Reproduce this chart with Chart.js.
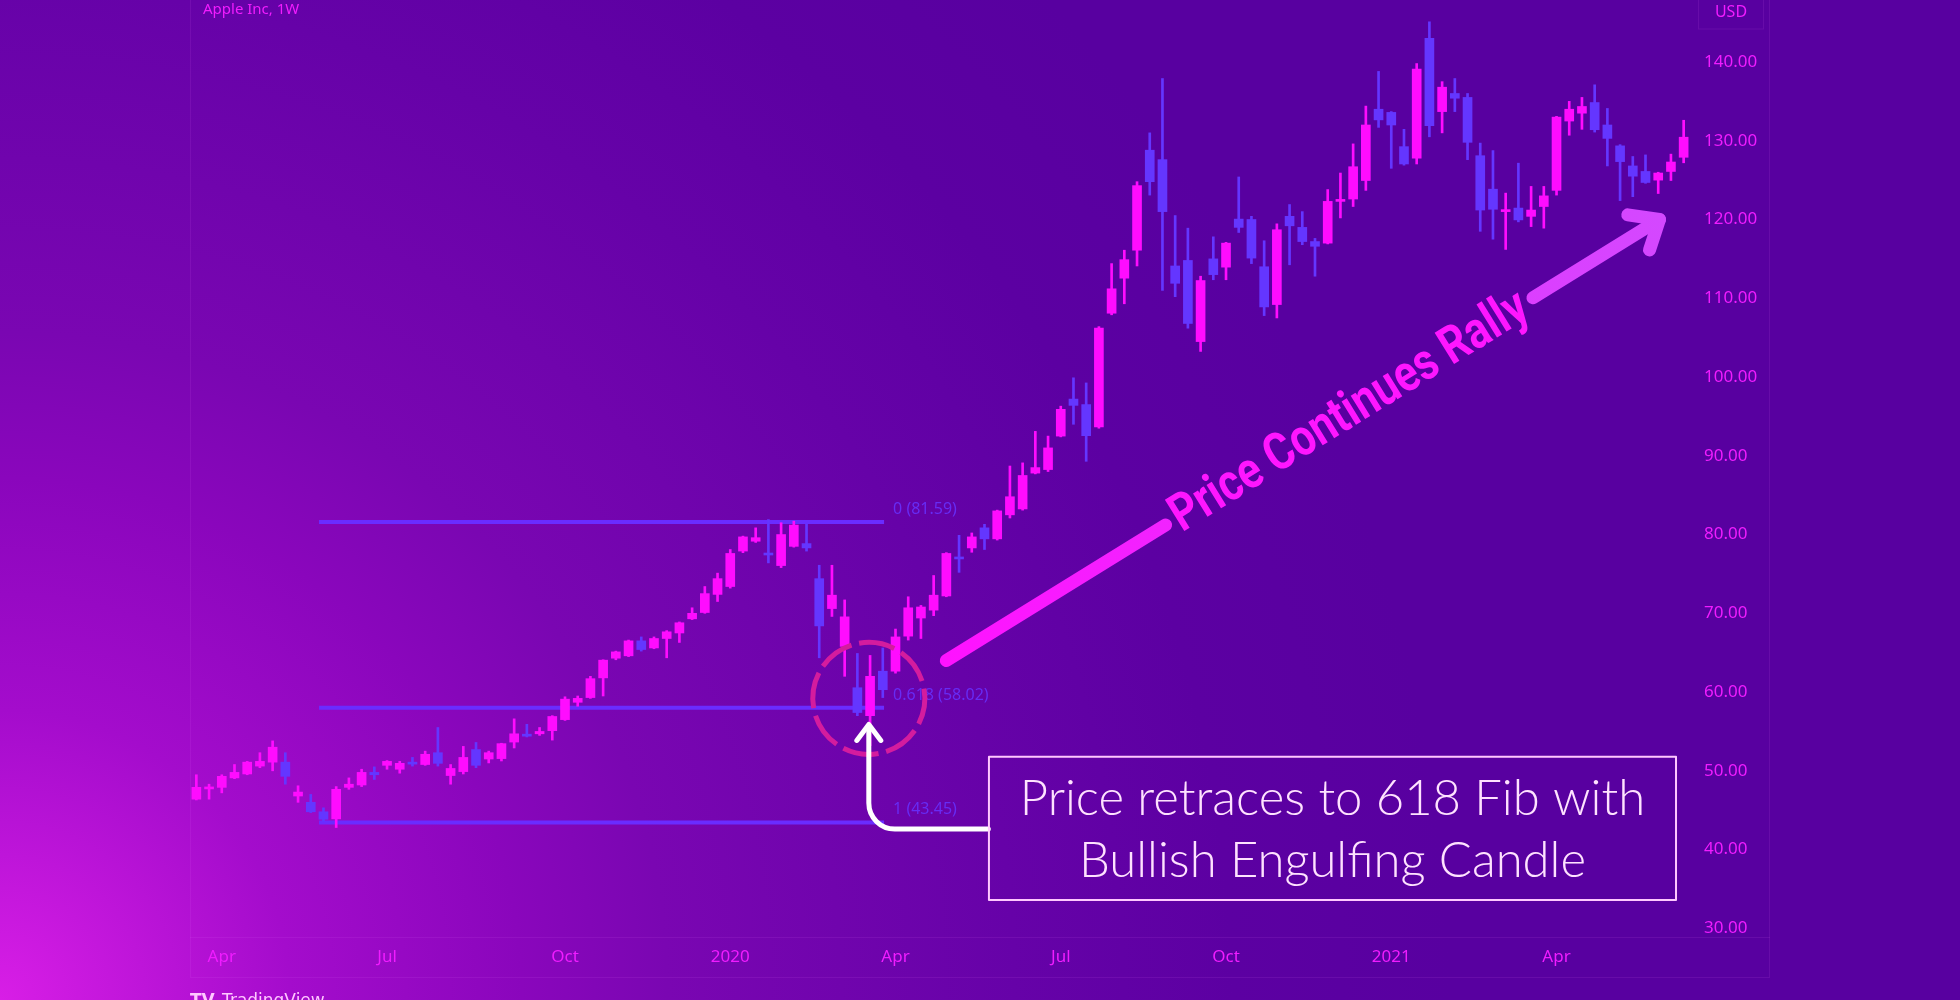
<!DOCTYPE html>
<html>
<head>
<meta charset="utf-8">
<script src="https://cdn.jsdelivr.net/npm/chart.js@4.4.1/dist/chart.umd.min.js"></script>
<style>
    html, body { margin: 0; padding: 0; background: #5800a0; overflow: hidden; }
    #wrap { width: 1960px; height: 1000px; }
</style>
</head>
<body>
<div id="wrap"><canvas id="aaplChart" width="1960" height="1000"></canvas></div>
<script>
// Apple Inc, weekly bars (split adjusted)
const weeks = [
    '2019-03-18','2019-03-25','2019-04-01','2019-04-08','2019-04-15','2019-04-22','2019-04-29',
    '2019-05-06','2019-05-13','2019-05-20','2019-05-27','2019-06-03','2019-06-10','2019-06-17','2019-06-24',
    '2019-07-01','2019-07-08','2019-07-15','2019-07-22','2019-07-29','2019-08-05','2019-08-12','2019-08-19','2019-08-26',
    '2019-09-02','2019-09-09','2019-09-16','2019-09-23','2019-09-30','2019-10-07','2019-10-14','2019-10-21','2019-10-28',
    '2019-11-04','2019-11-11','2019-11-18','2019-11-25','2019-12-02','2019-12-09','2019-12-16','2019-12-23','2019-12-30',
    '2020-01-06','2020-01-13','2020-01-20','2020-01-27','2020-02-03','2020-02-10','2020-02-17','2020-02-24',
    '2020-03-02','2020-03-09','2020-03-16','2020-03-23','2020-03-30','2020-04-06','2020-04-13','2020-04-20','2020-04-27',
    '2020-05-04','2020-05-11','2020-05-18','2020-05-25','2020-06-01','2020-06-08','2020-06-15','2020-06-22','2020-06-29',
    '2020-07-06','2020-07-13','2020-07-20','2020-07-27','2020-08-03','2020-08-10','2020-08-17','2020-08-24','2020-08-31',
    '2020-09-07','2020-09-14','2020-09-21','2020-09-28','2020-10-05','2020-10-12','2020-10-19','2020-10-26',
    '2020-11-02','2020-11-09','2020-11-16','2020-11-23','2020-11-30','2020-12-07','2020-12-14','2020-12-21','2020-12-28',
    '2021-01-04','2021-01-11','2021-01-18','2021-01-25','2021-02-01','2021-02-08','2021-02-15','2021-02-22',
    '2021-03-01','2021-03-08','2021-03-15','2021-03-22','2021-03-29','2021-04-05','2021-04-12','2021-04-19','2021-04-26',
    '2021-05-03','2021-05-10','2021-05-17','2021-05-24','2021-05-31','2021-06-07','2021-06-14'
];
const opens = [
    46.4, 47.7, 47.9, 49.1, 49.6, 50.6, 51.1, 51.1, 46.8, 46.0, 44.8, 43.9, 47.9, 48.2, 49.8,
    50.7, 50.2, 51.0, 50.8, 52.3, 49.4, 49.9, 52.7, 51.5, 51.55, 53.65, 54.5, 54.7, 55.1,
    56.5, 58.7, 59.3, 61.8, 64.3, 64.6, 66.5, 65.6, 66.8, 67.5, 69.3, 70.1, 72.4,
    73.4, 77.9, 79.15, 77.6, 76.06, 78.5, 78.85, 74.4, 70.6, 65.8, 60.55, 57.0, 62.65,
    62.65, 67.1, 69.4, 70.4, 72.2, 77.0, 78.3, 80.85, 79.45, 82.5, 83.25, 87.8, 88.25,
    92.5, 97.2, 96.5, 93.66, 108.1, 112.55, 116.1, 128.8, 127.6, 114.1, 114.8, 104.5, 115.0,
    113.95, 120.05, 120.0, 114.0, 109.2, 120.4, 119.0, 117.2, 117.0, 122.3, 122.6, 124.95, 134.0,
    133.6, 129.25, 127.8, 143.0, 133.7, 136.0, 135.5, 128.1, 123.85, 121.0, 121.45, 120.4, 121.65,
    123.7, 132.5, 133.5, 134.85, 132.0, 129.35, 126.8, 126.1, 125.0, 126.1, 127.9
];
const highs = [
    49.5, 48.3, 49.5, 50.8, 51.2, 52.3, 53.8, 52.3, 48.1, 47.0, 45.3, 48.0, 49.1, 50.2, 50.5,
    51.3, 51.2, 51.7, 52.5, 55.5, 50.8, 53.1, 53.6, 52.5, 53.5, 56.6, 55.9, 55.5, 57.0,
    59.4, 59.5, 62.0, 64.1, 65.2, 66.6, 67.0, 67.0, 67.8, 68.9, 70.7, 73.4, 75.1,
    78.1, 79.8, 80.85, 81.9, 81.5, 81.7, 81.3, 76.1, 76.1, 71.7, 64.9, 64.65, 65.6,
    68.0, 72.1, 71.0, 74.8, 77.7, 79.9, 80.2, 81.3, 83.1, 88.7, 89.1, 93.1, 92.5,
    96.3, 99.9, 99.25, 106.4, 114.4, 116.1, 124.8, 131.0, 137.9, 120.5, 118.9, 112.8, 117.8,
    117.1, 125.4, 120.4, 117.3, 119.45, 121.9, 121.0, 117.6, 123.8, 125.9, 129.6, 134.4, 138.8,
    133.7, 131.45, 139.8, 145.1, 137.5, 137.9, 136.0, 129.7, 128.75, 123.35, 127.15, 124.2, 124.2,
    133.1, 135.0, 135.5, 137.1, 134.1, 129.5, 128.0, 128.2, 126.0, 128.3, 132.6
];
const lows = [
    46.3, 46.4, 47.2, 49.0, 49.5, 50.4, 50.0, 48.3, 46.0, 44.7, 43.6, 42.8, 47.65, 48.0, 48.9,
    50.2, 49.7, 50.6, 50.7, 50.6, 48.3, 49.6, 50.4, 51.0, 51.25, 52.9, 54.3, 54.5, 53.9,
    56.4, 58.2, 59.2, 59.5, 64.1, 64.5, 65.2, 65.5, 64.35, 66.3, 69.2, 70.0, 71.5,
    73.2, 77.7, 79.0, 76.4, 75.8, 78.4, 77.9, 64.35, 69.6, 62.0, 57.0, 53.2, 59.3,
    62.4, 66.6, 66.8, 69.7, 72.1, 75.2, 77.75, 78.1, 79.3, 82.1, 83.1, 87.7, 88.0,
    92.4, 94.0, 89.3, 93.5, 107.9, 109.3, 114.1, 123.1, 111.0, 110.2, 106.2, 103.25, 112.35,
    112.35, 118.35, 114.4, 107.8, 107.5, 114.25, 116.8, 112.8, 116.9, 120.2, 121.65, 123.7, 131.7,
    126.5, 126.9, 127.05, 130.5, 131.0, 133.7, 127.6, 118.5, 117.5, 116.2, 119.7, 119.1, 118.9,
    123.1, 130.7, 131.45, 131.1, 126.8, 122.4, 122.9, 124.6, 123.3, 124.95, 127.2
];
const closes = [
    47.9, 47.9, 49.3, 49.8, 51.1, 51.2, 53.0, 49.3, 47.3, 44.8, 43.85, 47.65, 48.3, 49.8, 49.5,
    51.2, 50.95, 50.85, 52.1, 50.95, 50.3, 51.7, 50.7, 52.3, 53.45, 54.7, 54.4, 55.0, 56.9,
    59.1, 59.2, 61.7, 64.05, 65.1, 66.5, 65.4, 66.8, 67.65, 68.8, 70.0, 72.5, 74.4,
    77.6, 79.7, 79.6, 77.4, 80.0, 81.2, 78.3, 68.4, 72.3, 69.55, 57.4, 62.0, 60.3,
    67.0, 70.7, 70.8, 72.3, 77.6, 76.9, 79.7, 79.45, 83.0, 84.8, 87.5, 88.5, 91.0,
    95.9, 96.4, 92.55, 106.2, 111.2, 114.9, 124.3, 124.8, 121.0, 111.9, 106.8, 112.25, 113.0,
    117.0, 119.0, 115.1, 108.9, 118.7, 119.2, 117.2, 116.6, 122.3, 122.4, 126.7, 132.0, 132.65,
    132.0, 127.05, 139.1, 131.9, 136.8, 135.4, 129.8, 121.2, 121.3, 121.05, 119.95, 121.2, 123.0,
    133.0, 134.0, 134.35, 131.4, 130.3, 127.35, 125.5, 124.7, 125.9, 127.3, 130.45
];

// axis ticks
const timeTickIndex = [2, 15, 29, 42, 55, 68, 81, 94, 107];
const timeTickText = ['Apr', 'Jul', 'Oct', '2020', 'Apr', 'Jul', 'Oct', '2021', 'Apr'];
const priceTicks = [30, 40, 50, 60, 70, 80, 90, 100, 110, 120, 130, 140];

// fibonacci retracement drawn on the chart
const fibLevels = ['0', '0.618', '1'];
const fibPrices = [81.59, 58.02, 43.45];
const fibFrom = 9.65;
const fibTo = 54.1;

// annotation anchors (bar index / price)
const circleAt = { x: 52.9, y: 59.2 };
const engulfArrow = { tipX: 52.9, tipY: 56.15, elbowY: 42.6, endX: 62.3 };
const noteBox = { x0: 62.35, x1: 116.4, top: 51.8, bottom: 33.6 };
const rallyArrow = { x0: 59.0, y0: 64.0, x1: 115.1, y1: 120.0 };

const bull = '#ff0cff';
const bear = '#6436ff';
const fibColor = '#6a2cff';
const labelColor = '#f01cff';
const axisFont = 'Noto Sans';
const candleColors = closes.map((c, i) => c >= opens[i] ? bull : bear);

const overlay = {
    id: 'overlay',
    beforeDraw(chart) {
        const { ctx, width, height } = chart;
        ctx.save();
        const g = ctx.createRadialGradient(0, height, 0, 0, height, 1450);
        g.addColorStop(0, '#d81ee6');
        g.addColorStop(0.2, '#a40ccc');
        g.addColorStop(0.36, '#8a06bc');
        g.addColorStop(0.46, '#7a06b2');
        g.addColorStop(0.7, '#6602a8');
        g.addColorStop(0.85, '#5c00a2');
        g.addColorStop(1, '#5800a0');
        ctx.fillStyle = g;
        ctx.fillRect(0, 0, width, height);

        // faint pane borders
        const a = chart.chartArea;
        ctx.strokeStyle = 'rgba(240, 120, 255, 0.10)';
        ctx.lineWidth = 1;
        ctx.beginPath();
        ctx.moveTo(a.left + 0.5, 0);
        ctx.lineTo(a.left + 0.5, a.bottom + 40);
        ctx.moveTo(a.left, a.bottom + 0.5);
        ctx.lineTo(a.right + 80, a.bottom + 0.5);
        ctx.moveTo(a.left, a.bottom + 40.5);
        ctx.lineTo(a.right + 80, a.bottom + 40.5);
        ctx.moveTo(a.right + 79.5, 0);
        ctx.lineTo(a.right + 79.5, a.bottom + 40);
        ctx.stroke();
        ctx.strokeRect(a.right + 8.5, -2, 65, 31);
        ctx.restore();
    },
    afterDatasetsDraw(chart) {
        const { ctx } = chart;
        const sx = chart.scales.x, sy = chart.scales.y;
        const px = v => sx.getPixelForValue(v);
        const py = v => sy.getPixelForValue(v);
        const a = chart.chartArea;
        ctx.save();

        // title and currency
        ctx.font = '15px "' + axisFont + '"';
        ctx.fillStyle = '#f21cff';
        ctx.textBaseline = 'middle';
        ctx.textAlign = 'left';
        ctx.fillText('Apple Inc, 1W', a.left + 13, 10);
        ctx.textAlign = 'center';
        ctx.font = '16px "' + axisFont + '"';
        ctx.fillText('USD', a.right + 41, 12);

        // fib level labels
        ctx.font = '16px "' + axisFont + '"';
        ctx.fillStyle = '#672cf4';
        ctx.textAlign = 'left';
        ctx.textBaseline = 'alphabetic';
        fibPrices.forEach((p, i) => {
            ctx.fillText(fibLevels[i] + ' (' + p.toFixed(2) + ')', px(fibTo) + 9, py(p) - 8);
        });

        // dashed circle round the engulfing candle
        const cx = px(circleAt.x), cy = py(circleAt.y), r = 56;
        ctx.strokeStyle = '#d41c9e';
        ctx.lineWidth = 5;
        for (let k = 0; k < 8; k++) {
            const s = (35 + 45 * k) * Math.PI / 180;
            ctx.beginPath();
            ctx.arc(cx, cy, r, s, s + 37 * Math.PI / 180);
            ctx.stroke();
        }

        // white elbow arrow from the note box
        const tx = px(engulfArrow.tipX), ty = py(engulfArrow.tipY);
        const ey = py(engulfArrow.elbowY), ex = px(engulfArrow.endX);
        ctx.strokeStyle = '#ffffff';
        ctx.lineWidth = 5;
        ctx.lineJoin = 'round';
        ctx.lineCap = 'round';
        ctx.beginPath();
        ctx.moveTo(ex, ey);
        ctx.lineTo(tx + 26, ey);
        ctx.arcTo(tx, ey, tx, ey - 26, 26);
        ctx.lineTo(tx, ty + 4);
        ctx.stroke();
        ctx.beginPath();
        ctx.moveTo(tx - 12, ty + 18);
        ctx.lineTo(tx, ty + 2);
        ctx.lineTo(tx + 12, ty + 18);
        ctx.stroke();

        // note box
        const bx0 = px(noteBox.x0), bx1 = px(noteBox.x1);
        const by0 = py(noteBox.top), by1 = py(noteBox.bottom);
        ctx.strokeStyle = '#ffc8ff';
        ctx.lineWidth = 2;
        ctx.strokeRect(bx0, by0, bx1 - bx0, by1 - by0);
        ctx.fillStyle = '#ffe2ff';
        ctx.font = '300 49px Lato';
        ctx.textAlign = 'center';
        ctx.textBaseline = 'middle';
        const mid = (bx0 + bx1) / 2, bh = by1 - by0;
        ctx.fillText('Price retraces to 618 Fib with', mid, by0 + bh * 0.3);
        ctx.fillText('Bullish Engulfing Candle', mid, by0 + bh * 0.73);

        // rally arrow with label
        const x0 = px(rallyArrow.x0), y0 = py(rallyArrow.y0);
        const x1 = px(rallyArrow.x1), y1 = py(rallyArrow.y1);
        const len = Math.hypot(x1 - x0, y1 - y0);
        const ang = Math.atan2(y1 - y0, x1 - x0);
        const ux = Math.cos(ang), uy = Math.sin(ang);
        const grad = ctx.createLinearGradient(x0, y0, x1, y1);
        grad.addColorStop(0, '#ff12ff');
        grad.addColorStop(1, '#d448ff');
        ctx.strokeStyle = grad;
        ctx.lineWidth = 13;
        ctx.lineCap = 'round';
        const textW = 412;
        const tMid = 0.565 * len, half = textW / 2 + 10;
        ctx.beginPath();
        ctx.moveTo(x0, y0);
        ctx.lineTo(x0 + ux * (tMid - half), y0 + uy * (tMid - half));
        ctx.moveTo(x0 + ux * (tMid + half), y0 + uy * (tMid + half));
        ctx.lineTo(x1, y1);
        ctx.stroke();
        const back = ang + Math.PI;
        ctx.beginPath();
        ctx.moveTo(x1 + Math.cos(back + 0.7) * 32, y1 + Math.sin(back + 0.7) * 32);
        ctx.lineTo(x1, y1);
        ctx.lineTo(x1 + Math.cos(back - 0.7) * 32, y1 + Math.sin(back - 0.7) * 32);
        ctx.stroke();

        ctx.translate(x0 + ux * tMid, y0 + uy * tMid);
        ctx.rotate(ang);
        ctx.font = 'bold 52px Roboto';
        const w = ctx.measureText('Price Continues Rally').width;
        ctx.scale(textW / w, 1);
        ctx.fillStyle = '#ff16ff';
        ctx.textAlign = 'center';
        ctx.textBaseline = 'middle';
        ctx.fillText('Price Continues Rally', 0, 2);
        ctx.restore();

        // watermark, cut by the bottom edge
        ctx.save();
        ctx.fillStyle = '#ffc8ff';
        ctx.font = 'bold 17px "DejaVu Sans"';
        ctx.textBaseline = 'top';
        ctx.textAlign = 'left';
        ctx.fillText('TV', 190, 993);
        ctx.font = '17px "DejaVu Sans"';
        ctx.fillText('TradingView', 222, 993);
        ctx.restore();
    }
};

new Chart(document.getElementById('aaplChart'), {
    type: 'bar',
    data: {
        datasets: [
            {
                label: 'body',
                data: weeks.map((w, i) => ({ x: i, y: [opens[i], closes[i]] })),
                backgroundColor: candleColors,
                barThickness: 9,
                minBarLength: 2,
                grouped: false,
                order: 0
            },
            {
                label: 'wick',
                data: weeks.map((w, i) => ({ x: i, y: [lows[i], highs[i]] })),
                backgroundColor: candleColors,
                barThickness: 2,
                grouped: false,
                order: 1
            },
            ...fibPrices.map(p => ({
                type: 'line',
                label: 'fib ' + p,
                data: [{ x: fibFrom, y: p }, { x: fibTo, y: p }],
                borderColor: fibColor,
                borderWidth: 4,
                pointRadius: 0,
                order: 2
            }))
        ]
    },
    options: {
        responsive: false,
        animation: false,
        events: [],
        layout: { padding: { left: 190, right: 190, top: 0, bottom: 23 } },
        plugins: {
            legend: { display: false },
            tooltip: { enabled: false }
        },
        scales: {
            x: {
                type: 'linear',
                min: -0.5,
                max: weeks.length - 0.5,
                offset: false,
                grid: { display: false, drawTicks: false },
                border: { display: false },
                afterBuildTicks: s => { s.ticks = timeTickIndex.map(v => ({ value: v })); },
                afterFit: s => { s.height = 40; s.paddingLeft = 0; s.paddingRight = 0; },
                ticks: {
                    autoSkip: false,
                    maxRotation: 0,
                    padding: 10,
                    color: labelColor,
                    font: { family: axisFont, size: 17 },
                    callback: v => timeTickText[timeTickIndex.indexOf(v)] || ''
                }
            },
            y: {
                position: 'right',
                min: 28.9,
                max: 147.87,
                grid: { display: false, drawTicks: false },
                border: { display: false },
                afterBuildTicks: s => { s.ticks = priceTicks.map(v => ({ value: v })); },
                afterFit: s => { s.width = 80; s.paddingTop = 0; s.paddingBottom = 0; },
                ticks: {
                    padding: 14,
                    color: labelColor,
                    font: { family: axisFont, size: 17 },
                    callback: v => v.toFixed(2)
                }
            }
        }
    },
    plugins: [overlay]
});
</script>
</body>
</html>
